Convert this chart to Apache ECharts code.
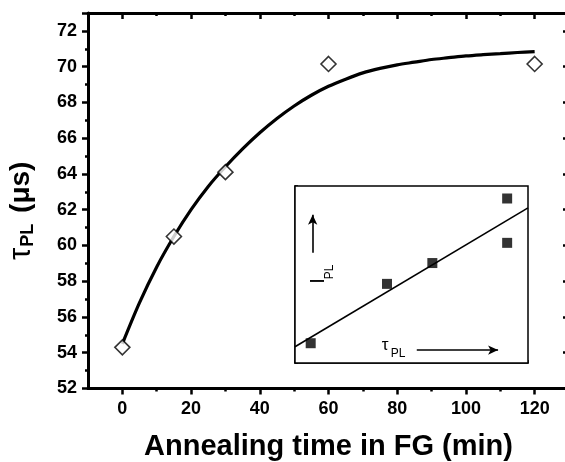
<!DOCTYPE html>
<html>
<head>
<meta charset="utf-8">
<script src="https://cdn.jsdelivr.net/npm/echarts@6.0.0/dist/echarts.min.js"></script>
<style>
  html, body { margin: 0; padding: 0; background: #fff; }
  #main { width: 565px; height: 462px; }
</style>
</head>
<body>
<div id="main"></div>
<script>
// main panel: measured lifetime vs annealing time
var annealMin = [0, 15, 30, 60, 120];
var tauPL = [54.3, 60.5, 64.1, 70.15, 70.15];
// fitted curve, every 5 min
var fitMin = [0, 5, 10, 15, 20, 25, 30, 35, 40, 45, 50, 55, 60, 65, 70, 75, 80, 85, 90, 95, 100, 105, 110, 115, 120];
var fitTau = [54.5, 56.8, 58.8, 60.5, 62.0, 63.3, 64.4, 65.4, 66.3, 67.1, 67.8, 68.4, 68.9, 69.3, 69.65, 69.9,
  70.1, 70.25, 70.4, 70.5, 70.6, 70.67, 70.73, 70.79, 70.84];
var xMajor = [0, 20, 40, 60, 80, 100, 120];
var xMinor = [10, 30, 50, 70, 90, 110];

// inset: I_PL vs tau_PL (arbitrary units)
var insetTau = [1.28, 7.5, 11.2, 17.3, 17.3];
var insetI = [0.95, 3.8, 4.8, 7.9, 5.77];
var insetFitX = [0, 19];
var insetFitY = [0.78, 7.45];
var arrowUp = [[1.44, 5.29], [1.44, 7.12]];
var arrowRight = [[9.93, 0.62], [16.56, 0.62]];

var FONT = '"Liberation Sans", Arial, sans-serif';
var chart = echarts.init(document.getElementById('main'));

function xy(xs, ys) {
  return xs.map(function(x, i) { return [x, ys[i]]; });
}

var mainX = {
  type: 'value', gridIndex: 0, min: -10, max: 130, interval: 10,
  splitLine: { show: false }
};
var tickStyle = { width: 2.5, color: '#000' };

chart.setOption({
  animation: false,
  backgroundColor: '#fff',
  grid: [
    { left: 88, top: 13, width: 481, height: 375.5, outerBoundsMode: 'none', containLabel: false },
    { left: 295, top: 186, width: 233, height: 177, outerBoundsMode: 'none', containLabel: false,
      show: true, borderColor: '#000', borderWidth: 1.5, z: 5 }
  ],
  xAxis: [
    Object.assign({}, mainX, {
      position: 'bottom',
      axisLine: { onZero: false, lineStyle: { color: '#000', width: 3 } },
      axisTick: { customValues: xMajor, length: 6, lineStyle: tickStyle },
      axisLabel: { customValues: xMajor, color: '#000', fontSize: 18, fontWeight: 'bold', fontFamily: FONT, margin: 12 },
      name: 'Annealing time in FG (min)', nameLocation: 'middle', nameGap: 44,
      nameTextStyle: { color: '#000', fontSize: 29, fontWeight: 'bold', fontFamily: FONT }
    }),
    Object.assign({}, mainX, {
      position: 'bottom', axisLine: { show: false, onZero: false }, axisLabel: { show: false },
      axisTick: { customValues: xMinor, length: 3, lineStyle: tickStyle }
    }),
    Object.assign({}, mainX, {
      position: 'top',
      axisLine: { onZero: false, lineStyle: { color: '#000', width: 3 } },
      axisLabel: { show: false },
      axisTick: { customValues: xMajor, inside: true, length: 6, lineStyle: tickStyle }
    }),
    Object.assign({}, mainX, {
      position: 'top', axisLine: { show: false, onZero: false }, axisLabel: { show: false },
      axisTick: { customValues: xMinor, inside: true, length: 3, lineStyle: tickStyle }
    }),
    {
      type: 'value', gridIndex: 1, min: 0, max: 19, interval: 1,
      axisLine: { onZero: false, lineStyle: { color: '#000', width: 1.5 } },
      axisTick: { inside: true, length: 3, lineStyle: { width: 1.5, color: '#000' } },
      axisLabel: { show: false }, splitLine: { show: false }
    }
  ],
  yAxis: [
    {
      type: 'value', gridIndex: 0, min: 52, max: 73, interval: 2, position: 'left',
      axisLine: { onZero: false, lineStyle: { color: '#000', width: 3 } },
      axisTick: { length: 6, lineStyle: tickStyle },
      minorTick: { show: true, splitNumber: 2, length: 3, lineStyle: tickStyle },
      axisLabel: { showMaxLabel: false, color: '#000', fontSize: 18, fontWeight: 'bold', fontFamily: FONT, margin: 11 },
      splitLine: { show: false },
      name: '{t|τ}{s|PL} (μs)', nameLocation: 'middle', nameGap: 51, nameRotate: 90,
      nameTextStyle: {
        color: '#000', fontSize: 28, fontWeight: 'bold', fontFamily: FONT, padding: [0, 20, 0, 0],
        rich: {
          t: { fontSize: 31, fontWeight: 'normal', fontFamily: FONT, color: '#000' },
          s: { fontSize: 18, fontWeight: 'bold', fontFamily: FONT, color: '#000', verticalAlign: 'bottom', padding: [14, 3, 0, 1] }
        }
      }
    },
    {
      type: 'value', gridIndex: 0, min: 52, max: 73, interval: 2, position: 'right',
      axisLine: { onZero: false, lineStyle: { color: '#000', width: 3 } },
      axisTick: { inside: true, length: 6, lineStyle: tickStyle },
      minorTick: { show: true, splitNumber: 2, length: 3, lineStyle: tickStyle },
      axisLabel: { show: false }, splitLine: { show: false }
    },
    {
      type: 'value', gridIndex: 1, min: 0, max: 8.5, interval: 1,
      axisLine: { onZero: false, lineStyle: { color: '#000', width: 1.5 } },
      axisTick: { inside: true, length: 3, lineStyle: { width: 1.5, color: '#000' } },
      axisLabel: { show: false }, splitLine: { show: false }
    }
  ],
  series: [
    {
      type: 'line', xAxisIndex: 0, yAxisIndex: 0, data: xy(fitMin, fitTau),
      smooth: 0.3, showSymbol: false, symbol: 'none',
      lineStyle: { color: '#000', width: 3.2 }, z: 2
    },
    {
      type: 'scatter', xAxisIndex: 0, yAxisIndex: 0, data: xy(annealMin, tauPL),
      symbol: 'diamond', symbolSize: 15,
      itemStyle: { color: '#fff', borderColor: '#000', borderWidth: 1.6 }, z: 3
    },
    {
      type: 'line', xAxisIndex: 4, yAxisIndex: 2, data: xy(insetFitX, insetFitY),
      symbol: 'none', lineStyle: { color: '#000', width: 1.6 }, z: 6,
      markLine: {
        silent: true, symbol: ['none', 'arrow'], symbolSize: [7, 10],
        label: { show: false },
        lineStyle: { color: '#000', width: 1.6, type: 'solid' },
        data: [
          [{ coord: arrowUp[0] }, { coord: arrowUp[1] }],
          [{ coord: arrowRight[0] }, { coord: arrowRight[1] }]
        ]
      }
    },
    {
      type: 'scatter', xAxisIndex: 4, yAxisIndex: 2, data: xy(insetTau, insetI),
      symbol: 'rect', symbolSize: 10, itemStyle: { color: '#000' }, z: 7
    }
  ],
  graphic: [
    { type: 'rect', z: 1, left: 295, top: 186, shape: { width: 233, height: 177 }, style: { fill: '#fff' } },
    { type: 'text', x: 318, y: 281, rotation: Math.PI / 2, z: 10,
      style: { text: 'I', fontSize: 20, fontFamily: FONT, fill: '#000', align: 'center', verticalAlign: 'middle' } },
    { type: 'text', x: 330, y: 272, rotation: Math.PI / 2, z: 10,
      style: { text: 'PL', fontSize: 12, fontFamily: FONT, fill: '#000', align: 'center', verticalAlign: 'middle' } },
    { type: 'text', x: 385, y: 345, z: 10,
      style: { text: 'τ', fontSize: 17, fontFamily: FONT, fill: '#000', align: 'center', verticalAlign: 'middle' } },
    { type: 'text', x: 398, y: 354, z: 10,
      style: { text: 'PL', fontSize: 12, fontFamily: FONT, fill: '#000', align: 'center', verticalAlign: 'middle' } }
  ]
});
</script>
</body>
</html>
